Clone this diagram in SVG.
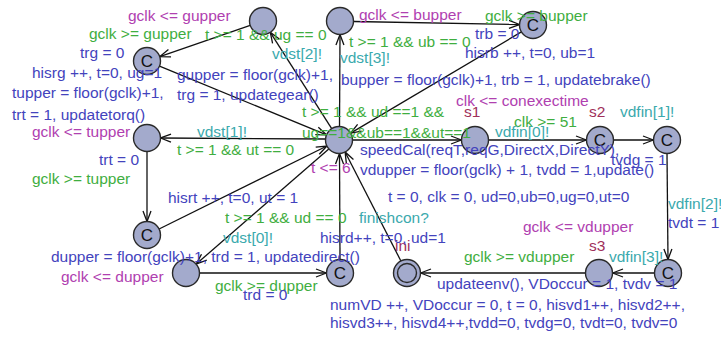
<svg xmlns="http://www.w3.org/2000/svg" width="721" height="337" viewBox="0 0 721 337">
<style>
text{font-family:"Liberation Sans",Arial,sans-serif;font-size:15.5px}
.nd{fill:#a3aacc;stroke:#2a2a2a;stroke-width:1.4}
.c{font-size:17px;fill:#111;text-anchor:middle}
.e{stroke:#111;stroke-width:1.3;fill:none;marker-end:url(#arr)}
.b{fill:#4343bd}
.g{fill:#3fae3f}
.m{fill:#b040b0}
.s{fill:#3aa9ad}
.n{fill:#a0305a}
</style>
<defs>
<marker id="arr" markerWidth="13" markerHeight="10" refX="11.5" refY="5" orient="auto" markerUnits="userSpaceOnUse">
<path d="M1,1 L11.5,5 L1,9" fill="none" stroke="#111" stroke-width="1.3"/>
</marker>
</defs>
<rect width="721" height="337" fill="#fff"/>
<g id="connectors">
<line class="e" x1="331.7" y1="128.6" x2="270.3" y2="32.4"/>
<line class="e" x1="250.2" y1="25.4" x2="159.8" y2="56.6"/>
<line class="e" x1="159.5" y1="66.1" x2="326.5" y2="134.9"/>
<line class="e" x1="325.5" y1="139" x2="160.5" y2="138"/>
<line class="e" x1="147" y1="151.5" x2="147" y2="221.5"/>
<line class="e" x1="159.1" y1="229" x2="326.9" y2="146"/>
<line class="e" x1="328.8" y1="148.9" x2="196.2" y2="264.1"/>
<line class="e" x1="199.5" y1="273" x2="326.5" y2="273"/>
<line class="e" x1="340" y1="259.5" x2="339.5" y2="153.5"/>
<line class="e" x1="339.5" y1="126.5" x2="340" y2="34.5"/>
<line class="e" x1="353.5" y1="21.5" x2="519.5" y2="24.5"/>
<line class="e" x1="521.4" y1="31.9" x2="350.6" y2="133.1"/>
<line class="e" x1="352.5" y1="140" x2="461.5" y2="140"/>
<line class="e" x1="488.5" y1="140" x2="586.5" y2="140"/>
<line class="e" x1="613.5" y1="140" x2="653.5" y2="140"/>
<line class="e" x1="667" y1="153.5" x2="668" y2="259.5"/>
<line class="e" x1="654.5" y1="273" x2="612.5" y2="273"/>
<line class="e" x1="585.5" y1="273" x2="420.5" y2="273"/>
<line class="e" x1="400.9" y1="261" x2="345.1" y2="152"/>
</g>
<g id="center"><circle class="nd" cx="339" cy="140" r="13.5"/><text class="m" x="311" y="173">t &lt;= 6</text></g>
<g id="gear"><circle class="nd" cx="263" cy="21" r="13.5"/><text class="m" x="128" y="21">gclk &lt;= gupper</text></g>
<g id="brake"><circle class="nd" cx="340" cy="21" r="13.5"/><text class="m" x="359" y="20">gclk &lt;= bupper</text></g>
<g id="ctrg"><circle class="nd" cx="147" cy="61" r="13.5"/><text class="c" x="147" y="67">C</text></g>
<g id="ctrb"><circle class="nd" cx="533" cy="25" r="13.5"/><text class="c" x="533" y="31">C</text></g>
<g id="torque"><circle class="nd" cx="147" cy="138" r="13.5"/><text class="m" x="32" y="137">gclk &lt;= tupper</text></g>
<g id="ctorque"><circle class="nd" cx="147" cy="235" r="13.5"/><text class="c" x="147" y="241">C</text></g>
<g id="direct"><circle class="nd" cx="186" cy="273" r="13.5"/><text class="m" x="61" y="282">gclk &lt;= dupper</text></g>
<g id="ctrd"><circle class="nd" cx="340" cy="273" r="13.5"/><text class="c" x="340" y="279">C</text></g>
<g id="ini"><circle class="nd" cx="407" cy="273" r="13.5"/><circle class="nd" cx="407" cy="273" r="9.5"/><text class="n" x="395" y="251">ini</text></g>
<g id="s1"><circle class="nd" cx="475" cy="140" r="13.5"/><text class="n" x="464" y="117">s1</text><text class="m" x="456" y="106">clk &lt;= conexectime</text></g>
<g id="s2"><circle class="nd" cx="600" cy="140" r="13.5"/><text class="c" x="600" y="146">C</text><text class="n" x="589" y="117">s2</text></g>
<g id="cr"><circle class="nd" cx="667" cy="140" r="13.5"/><text class="c" x="667" y="146">C</text></g>
<g id="cbr"><circle class="nd" cx="668" cy="273" r="13.5"/><text class="c" x="668" y="279">C</text></g>
<g id="s3"><circle class="nd" cx="599" cy="273" r="13.5"/><text class="n" x="589" y="251">s3</text><text class="m" x="523" y="232">gclk &lt;= vdupper</text></g>
<g id="labels">
<text class="g" x="89" y="39">gclk &gt;= gupper</text>
<text class="g" x="205" y="40">t &gt;= 1 &amp;&amp; ug == 0</text>
<text class="b" x="80" y="58">trg = 0</text>
<text class="s" x="272" y="59">vdst[2]!</text>
<text class="b" x="32" y="78">hisrg ++, t=0, ug=1</text>
<text class="b" x="177" y="80">gupper = floor(gclk)+1,</text>
<text class="b" x="12" y="98">tupper = floor(gclk)+1,</text>
<text class="b" x="177" y="100">trg = 1, updategear()</text>
<text class="b" x="12" y="120">trt = 1, updatetorq()</text>
<text class="s" x="197" y="137">vdst[1]!</text>
<text class="g" x="177" y="155">t &gt;= 1 &amp;&amp; ut == 0</text>
<text class="b" x="99" y="165">trt = 0</text>
<text class="g" x="32" y="184">gclk &gt;= tupper</text>
<text class="b" x="168" y="203">hisrt ++, t=0, ut = 1</text>
<text class="g" x="225" y="223">t &gt;= 1 &amp;&amp; ud == 0</text>
<text class="s" x="359" y="223">finishcon?</text>
<text class="s" x="223" y="243">vdst[0]!</text>
<text class="b" x="320" y="243">hisrd++, t=0, ud=1</text>
<text class="b" x="51" y="262">dupper = floor(gclk)+1, trd = 1, updatedirect()</text>
<text class="g" x="215" y="291">gclk &gt;= dupper</text>
<text class="b" x="243" y="300">trd = 0</text>
<text class="g" x="485" y="21">gclk &gt;= bupper</text>
<text class="b" x="475" y="39">trb = 0</text>
<text class="g" x="349" y="47">t &gt;= 1 &amp;&amp; ub == 0</text>
<text class="b" x="465" y="58">hisrb ++, t=0, ub=1</text>
<text class="s" x="340" y="63">vdst[3]!</text>
<text class="b" x="341" y="85">bupper = floor(gclk)+1, trb = 1, updatebrake()</text>
<text class="g" x="302" y="117">t &gt;= 1 &amp;&amp; ud ==1 &amp;&amp;</text>
<text class="g" x="302" y="138">ug==1&amp;&amp;ub==1&amp;&amp;ut==1</text>
<text class="g" x="514" y="127">clk &gt;= 51</text>
<text class="s" x="495" y="137">vdfin[0]!</text>
<text class="s" x="620" y="117">vdfin[1]!</text>
<text class="b" x="360" y="155">speedCal(reqT,reqG,DirectX,DirectY),</text>
<text class="b" x="611" y="165">tvdg = 1</text>
<text class="b" x="360" y="175">vdupper = floor(gclk) + 1, tvdd = 1,update()</text>
<text class="b" x="388" y="202">t = 0, clk = 0, ud=0,ub=0,ug=0,ut=0</text>
<text class="s" x="668" y="209">vdfin[2]!</text>
<text class="b" x="668" y="228">tvdt = 1</text>
<text class="g" x="464" y="262">gclk &gt;= vdupper</text>
<text class="s" x="609" y="262">vdfin[3]!</text>
<text class="b" x="437" y="289">updateenv(), VDoccur = 1, tvdv = 1</text>
<text class="b" x="330" y="310">numVD ++, VDoccur = 0, t = 0, hisvd1++, hisvd2++,</text>
<text class="b" x="330" y="328">hisvd3++, hisvd4++,tvdd=0, tvdg=0, tvdt=0, tvdv=0</text>
</g>
</svg>
